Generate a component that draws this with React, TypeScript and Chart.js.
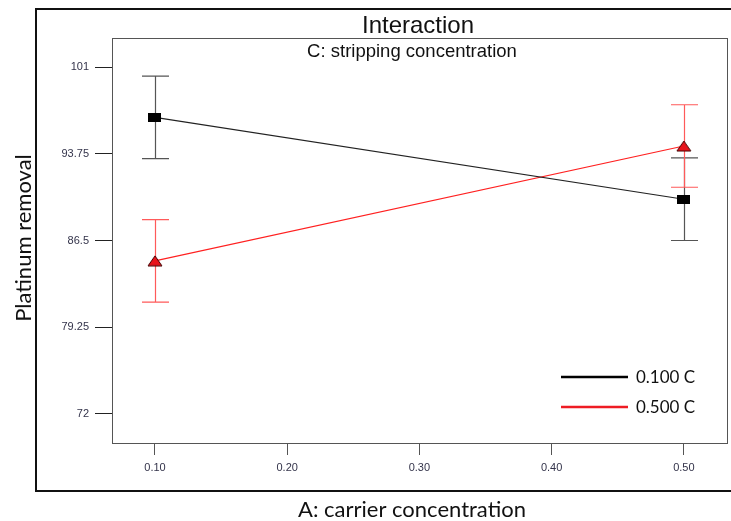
import React, { useEffect, useRef } from "react";
import { Chart, registerables } from "chart.js";

Chart.register(...registerables);

// ---- data ----
const xTickValues = [0.1, 0.2, 0.3, 0.4, 0.5];
const xTickLabels = ["0.10", "0.20", "0.30", "0.40", "0.50"];
const yTickValues = [72, 79.25, 86.5, 93.75, 101];
const yTickLabels = ["72", "79.25", "86.5", "93.75", "101"];

const carrier = [0.1, 0.5];
const series1Label = "0.100 C";
const series1Values = [96.8, 89.95];
const series1Errors = [3.45, 3.45];
const series2Label = "0.500 C";
const series2Values = [84.8, 94.4];
const series2Errors = [3.45, 3.45];

const titleText = "Interaction";
const subtitleText = "C: stripping concentration";
const xTitle = "A: carrier concentration";
const yTitle = "Platinum removal";

function makeRect(): HTMLCanvasElement {
  const c = document.createElement("canvas");
  c.width = 13;
  c.height = 9;
  const g = c.getContext("2d")!;
  g.fillStyle = "#000";
  g.fillRect(0, 0, 13, 9);
  return c;
}
function makeTri(): HTMLCanvasElement {
  const c = document.createElement("canvas");
  c.width = 16;
  c.height = 12;
  const g = c.getContext("2d")!;
  g.beginPath();
  g.moveTo(8, 1);
  g.lineTo(15, 11);
  g.lineTo(1, 11);
  g.closePath();
  g.fillStyle = "#e8141c";
  g.fill();
  g.strokeStyle = "#400";
  g.lineWidth = 1;
  g.stroke();
  return c;
}

export default function App() {
  const ref = useRef<HTMLCanvasElement | null>(null);
  useEffect(() => {
    if (!ref.current) return;
    const errs = [series1Errors, series2Errors];
    const errColors = ["#555555", "#ff5a5a"];
    const decor = {
      id: "decor",
      beforeDatasetsDraw(chart: any) {
        const ctx = chart.ctx;
        const xs = chart.scales.x;
        const ys = chart.scales.y;
        ctx.save();
        chart.data.datasets.forEach((ds: any, di: number) => {
          ctx.strokeStyle = errColors[di];
          ctx.lineWidth = 1.2;
          ds.data.forEach((p: any, i: number) => {
            const px = Math.round(xs.getPixelForValue(p.x)) + 0.5;
            const top = ys.getPixelForValue(p.y + errs[di][i]);
            const bot = ys.getPixelForValue(p.y - errs[di][i]);
            ctx.beginPath();
            ctx.moveTo(px, top);
            ctx.lineTo(px, bot);
            ctx.moveTo(px - 13.5, top);
            ctx.lineTo(px + 13.5, top);
            ctx.moveTo(px - 13.5, bot);
            ctx.lineTo(px + 13.5, bot);
            ctx.stroke();
          });
        });
        ctx.restore();
      },
      afterDraw(chart: any) {
        const ctx = chart.ctx;
        const a = chart.chartArea;
        ctx.save();
        // plot box
        ctx.strokeStyle = "#555";
        ctx.lineWidth = 1;
        ctx.strokeRect(Math.round(a.left) + 0.5, Math.round(a.top) + 0.5, Math.round(a.right - a.left), Math.round(a.bottom - a.top));
        // outer frame
        ctx.strokeStyle = "#111";
        ctx.lineWidth = 2;
        ctx.beginPath();
        ctx.moveTo(740, 9);
        ctx.lineTo(36, 9);
        ctx.lineTo(36, 491);
        ctx.lineTo(740, 491);
        ctx.stroke();
        // titles
        ctx.fillStyle = "#111";
        ctx.textAlign = "center";
        ctx.textBaseline = "alphabetic";
        ctx.font = "24px 'Liberation Sans', Arial, sans-serif";
        ctx.fillText(titleText, 418, 33);
        ctx.font = "18.5px 'Liberation Sans', Arial, sans-serif";
        ctx.fillText(subtitleText, 412, 57);
        // axis titles
        ctx.fillStyle = "#111";
        ctx.font = "22px Lato, 'Open Sans', sans-serif";
        ctx.fillText(xTitle, 412, 517);
        ctx.save();
        ctx.translate(31, 238);
        ctx.rotate(-Math.PI / 2);
        ctx.fillText(yTitle, 0, 0);
        ctx.restore();
        // legend
        const items = [
          { label: series1Label, color: "#000", y: 377 },
          { label: series2Label, color: "#ee1c24", y: 407 },
        ];
        ctx.textAlign = "left";
        ctx.textBaseline = "middle";
        ctx.font = "17px Lato, 'Open Sans', sans-serif";
        items.forEach((it) => {
          ctx.strokeStyle = it.color;
          ctx.lineWidth = 2.5;
          ctx.beginPath();
          ctx.moveTo(561, it.y);
          ctx.lineTo(628, it.y);
          ctx.stroke();
          ctx.fillStyle = "#111";
          ctx.fillText(it.label, 636, it.y + 1);
        });
        ctx.restore();
      },
    };

    const chart = new Chart(ref.current, {
      type: "line",
      data: {
        datasets: [
          {
            label: series1Label,
            data: carrier.map((x, i) => ({ x, y: series1Values[i] })),
            borderColor: "#222",
            borderWidth: 1.2,
            pointStyle: makeRect() as any,
            pointRadius: 6,
            fill: false,
          },
          {
            label: series2Label,
            data: carrier.map((x, i) => ({ x, y: series2Values[i] })),
            borderColor: "#ff2020",
            borderWidth: 1.2,
            pointStyle: makeTri() as any,
            pointRadius: 6,
            fill: false,
          },
        ],
      },
      plugins: [decor],
      options: {
        responsive: false,
        animation: false,
        layout: { padding: { left: 0, top: 38, right: 1, bottom: 0 } },
        plugins: {
          legend: { display: false },
          title: { display: false },
          tooltip: { enabled: false },
        },
        scales: {
          x: {
            type: "linear",
            min: 0.0675,
            max: 0.5325,
            afterBuildTicks: (s: any) => {
              s.ticks = xTickValues.map((v) => ({ value: v }));
            },
            afterFit: (s: any) => {
              s.height = 78;
            },
            ticks: {
              callback: (v: any) => {
                const i = xTickValues.indexOf(v);
                return i >= 0 ? xTickLabels[i] : "";
              },
              font: { family: "'Liberation Sans', Arial, sans-serif", size: 11 },
              color: "#33334a",
              padding: 6,
              maxRotation: 0,
              autoSkip: false,
            },
            grid: { drawOnChartArea: false, drawTicks: true, tickLength: 12, color: "#555" },
            border: { display: false },
          },
          y: {
            type: "linear",
            min: 69.57,
            max: 103.43,
            afterBuildTicks: (s: any) => {
              s.ticks = yTickValues.map((v) => ({ value: v }));
            },
            afterFit: (s: any) => {
              s.width = 112;
            },
            ticks: {
              callback: (v: any) => {
                const i = yTickValues.indexOf(v);
                return i >= 0 ? yTickLabels[i] : "";
              },
              font: { family: "'Liberation Sans', Arial, sans-serif", size: 11 },
              color: "#33334a",
              padding: 6,
              autoSkip: false,
            },
            grid: { drawOnChartArea: false, drawTicks: true, tickLength: 17, color: "#222" },
            border: { display: false },
          },
        },
      },
    });
    return () => chart.destroy();
  }, []);

  return (
    <div style={{ position: "fixed", left: 0, top: 0, width: 731, height: 521, background: "#fff", overflow: "hidden" }}>
      <canvas ref={ref} width={734} height={521} style={{ display: "block", width: 734, height: 521 }} />
    </div>
  );
}
